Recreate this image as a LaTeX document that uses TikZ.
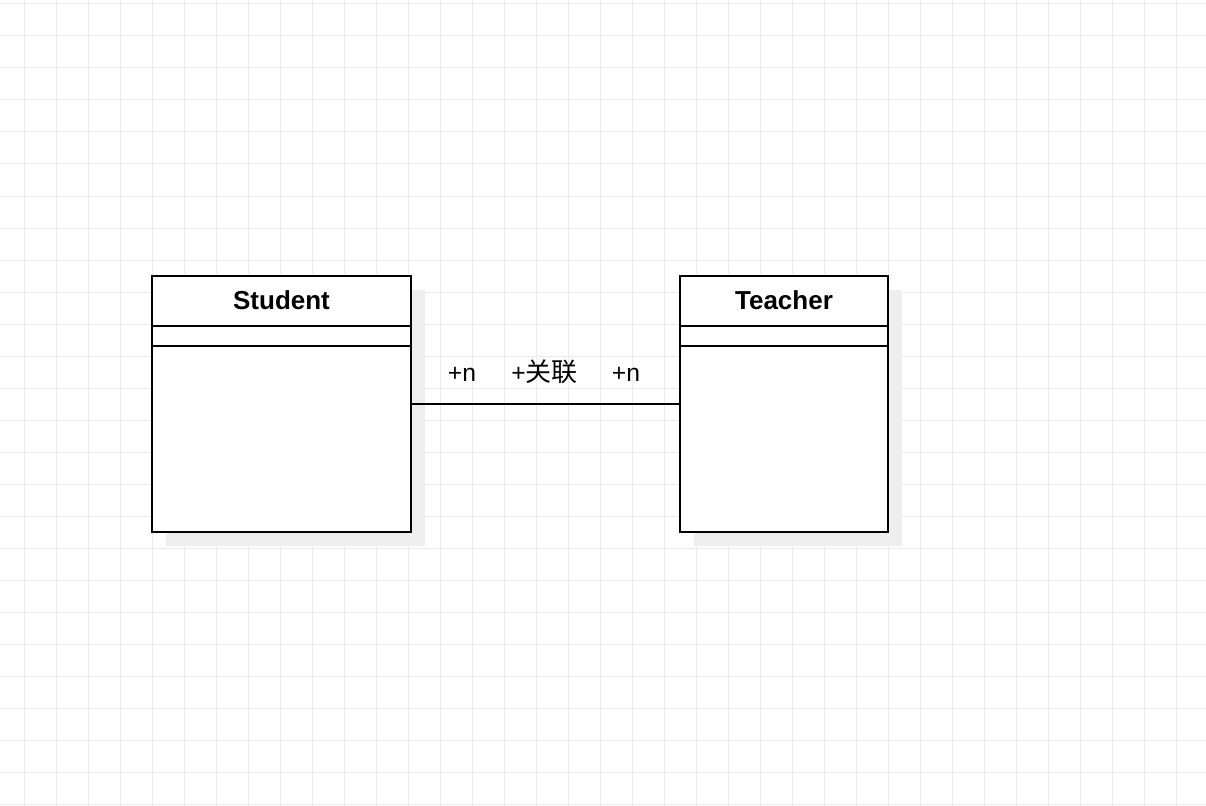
\documentclass[tikz,border=0pt]{standalone}
\usepackage{fontspec}
\setmainfont{Liberation Sans}
\newfontfamily\cjk{Noto Sans CJK SC}
\usetikzlibrary{positioning}
\definecolor{gridgray}{HTML}{EBEBEB}
\definecolor{shadowgray}{HTML}{EEEEEE}

\begin{document}
\begin{tikzpicture}[x=0.75pt,y=-0.75pt,
    class node/.style={rectangle,draw,line width=1.5pt,fill=white,inner sep=0pt},
    shadow node/.style={rectangle,fill=shadowgray,inner sep=0pt},
    title node/.style={anchor=base,font=\fontsize{19.5}{23}\selectfont\bfseries},
    role node/.style={anchor=base,font=\fontsize{18.5}{22}\selectfont},
    grid line/.style={gridgray,line width=0.75pt}]
            \useasboundingbox (0,0) rectangle (1206,806);
            \fill[white] (0,0) rectangle (1206,806);
            \foreach \x in {24,56,...,1200} \draw[grid line] (\x,0) -- (\x,806);
            \foreach \y in {4,36,...,804} \draw[grid line] (0,\y) -- (1206,\y);

            % shadows
            \node[shadow node, minimum width=259*0.75pt, minimum height=256*0.75pt] (stus) at (295.5,418){};
            \node[shadow node, minimum width=208*0.75pt, minimum height=256*0.75pt] (teas) at (798,418){};

            % classes
            \node[class node, minimum width=259*0.75pt, minimum height=256*0.75pt] (stu) at (281.5,404){};
            \node[class node, minimum width=208*0.75pt, minimum height=256*0.75pt] (tea) at (784,404){};
            \node[title node] (stut) at (281.5,309){Student};
            \node[title node] (teat) at (784,309){Teacher};
            \draw[line width=1.5pt] (stu.north west) ++(0,51) -- ++(259,0);
            \draw[line width=1.5pt] (stu.north west) ++(0,71) -- ++(259,0);
            \draw[line width=1.5pt] (tea.north west) ++(0,51) -- ++(208,0);
            \draw[line width=1.5pt] (tea.north west) ++(0,71) -- ++(208,0);

            % association
            \draw[line width=1.5pt] (stu.east) -- (tea.west);
            \node[role node] (r1) at (462,381){+n};
            \node[role node] (r2) at (544.5,381){+{\cjk\fontsize{19.5}{22}\selectfont 关联}};
            \node[role node] (r3) at (626,381){+n};
\end{tikzpicture}
\end{document}
